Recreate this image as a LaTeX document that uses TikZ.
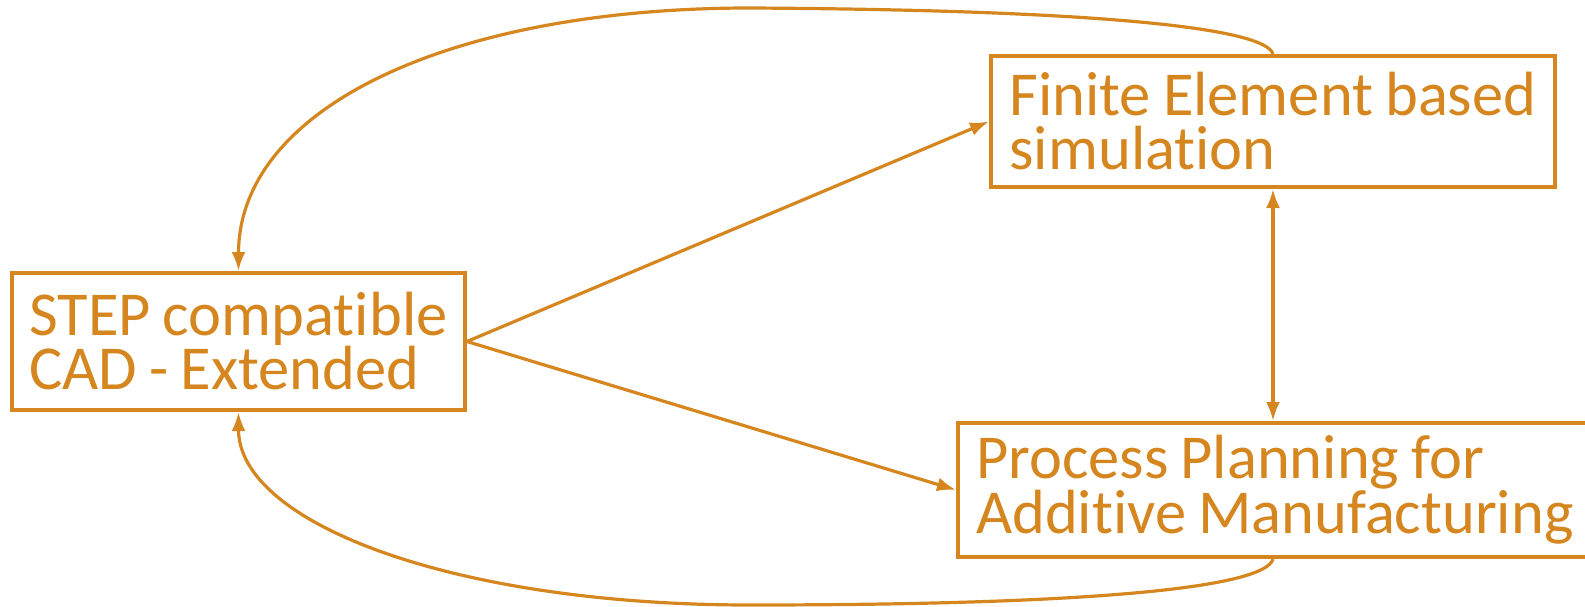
\documentclass[tikz,border=0pt]{standalone}
\usepackage{fontspec}
\setmainfont{Carlito}[Ligatures=NoCommon, WordSpace=0.85]
\usetikzlibrary{arrows.meta,calc}
\definecolor{acc}{RGB}{213,134,31}
\begin{document}
\begin{tikzpicture}[x=1pt,y=-1pt,
  box/.style={draw=acc, line width=4pt, text=acc, align=flush left, inner sep=0pt,
    font=\fontsize{62.5}{54}\selectfont, anchor=center},
  tip/.style={-{Latex[length=19pt,width=14pt]}},
  conn/.style={draw=acc, line width=3.2pt, tip},
  conn2/.style={draw=acc, line width=3.2pt, {Latex[length=19pt,width=14pt]}-{Latex[length=19pt,width=14pt]}}]
\useasboundingbox (0,0) rectangle (1585,607);
\node[box, minimum width=453pt, minimum height=137pt] (step) at (238.5,341.5) {STEP compatible\\CAD - Extended};
\node[box, minimum width=564pt, minimum height=131pt] (fe) at (1273,121.5) {Finite Element based\\simulation};
\node[box, inner xsep=18pt, text width=606pt, minimum height=134pt] (pp) at (1279,490) {Process Planning for\\Additive Manufacturing};
\coordinate (topmid) at (750,8);
\coordinate (botmid) at (750,605);
\draw[conn] (step.east) -- (fe.west);
\draw[conn] (step.east) -- (pp.west);
\draw[conn2] (fe.south) -- (fe.south |- pp.north);
\draw[conn] (fe.north) .. controls ($(fe.north)+(-8,-26)$) and (1100,10) .. (topmid)
  .. controls (450,8) and ($(step.north)+(0,-163)$) .. (step.north);
\draw[conn] (fe.south |- pp.south) .. controls ($(fe.south |- pp.south)+(-8,28)$) and (1100,605) .. (botmid)
  .. controls (450,605) and ($(step.south)+(0,110)$) .. (step.south);
\end{tikzpicture}
\end{document}
